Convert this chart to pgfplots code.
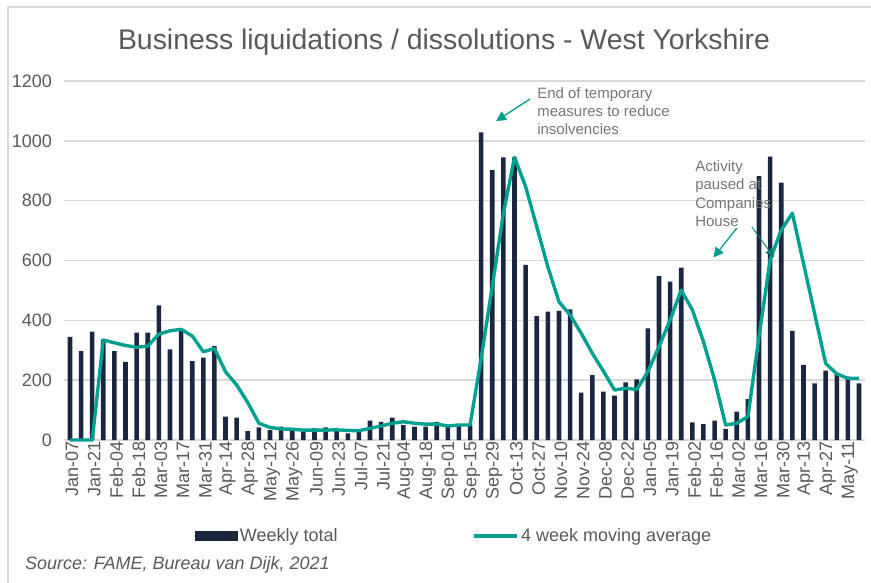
\documentclass[border=0pt]{standalone}
\usepackage{fontspec}
\setmainfont{Liberation Sans}
\usepackage{pgfplots}
\usepackage{pgfplotstable}
\pgfplotsset{compat=1.18}
\usetikzlibrary{arrows.meta}
\definecolor{navy}{RGB}{27,38,64}
\definecolor{tealc}{RGB}{0,160,145}
\definecolor{gridc}{RGB}{217,217,217}
\definecolor{txt}{RGB}{89,89,89}
\definecolor{anno}{RGB}{118,118,118}
\pgfplotstableread{
x bar avg
0 345 0
1 297 0
2 362 0
3 336 334
4 297 325
5 261 316
6 359 310
7 359 314
8 450 354
9 303 365
10 370 370
11 264 348
12 275 295
13 314 306
14 78 228
15 75 184
16 30 125
17 42 56
18 33 42
19 45 37
20 33 36
21 28 33
22 39 33
23 42 33
24 39 34
25 22 32
26 28 31
27 65 39
28 61 47
29 75 56
30 50 61
31 45 56
32 45 53
33 61 53
34 45 47
35 53 50
36 50 50
37 1028 273
38 902 513
39 945 758
40 945 945
41 585 847
42 414 713
43 429 579
44 432 462
45 437 418
46 158 357
47 217 290
48 162 230
49 148 167
50 193 173
51 203 169
52 373 228
53 548 312
54 529 401
55 576 501
56 59 435
57 53 329
58 65 201
59 37 50
60 95 56
61 137 78
62 882 345
63 947 602
64 860 702
65 365 758
66 251 591
67 189 423
68 232 256
69 221 221
70 212 206
71 189 206
}\datatab
\begin{document}
\begin{tikzpicture}
\useasboundingbox (0pt,0pt) rectangle (871pt,-583pt);
\draw[gridc, line width=1.5pt] (8pt,-7pt) rectangle (900pt,-620pt);
\node[txt, font=\fontsize{28.4}{32}\selectfont, anchor=center, inner sep=0pt] at (444pt,-42pt) {Business liquidations / dissolutions - West Yorkshire};
\node[txt, font=\fontsize{18}{21}\selectfont\itshape, anchor=west, inner sep=0pt] at (25pt,-565pt) {Source: FAME, Bureau van Dijk, 2021};
\begin{axis}[
  at={(64.4pt,-440pt)}, anchor=south west,
  scale only axis, width=800.2pt, height=359pt,
  xmin=-0.5, xmax=71.5, ymin=0, ymax=1200,
  ytick={0,200,...,1200},
  xtick={0,2,...,70},
  xticklabels={Jan-07,Jan-21,Feb-04,Feb-18,Mar-03,Mar-17,Mar-31,Apr-14,Apr-28,May-12,May-26,Jun-09,Jun-23,Jul-07,Jul-21,Aug-04,Aug-18,Sep-01,Sep-15,Sep-29,Oct-13,Oct-27,Nov-10,Nov-24,Dec-08,Dec-22,Jan-05,Jan-19,Feb-02,Feb-16,Mar-02,Mar-16,Mar-30,Apr-13,Apr-27,May-11},
  tick label style={font=\fontsize{18}{21}\selectfont, text=txt},
  xticklabel style={rotate=90, anchor=east, inner sep=1pt, yshift=-2pt},
  yticklabel style={xshift=-9pt},
  /pgf/number format/assume math mode=true,
  /pgf/number format/1000 sep={},
  ymajorgrids, grid style={gridc, line width=1.4pt},
  axis line style={draw=none},
  major tick length=0pt,
  clip=false,
  legend columns=2,
  legend style={at={(0.487,-0.267)}, anchor=center, draw=none, fill=none,
    font=\fontsize{18}{21}\selectfont, text=txt, inner sep=0pt,
    nodes={inner sep=1.5pt, anchor=west},
    /tikz/every even column/.append style={column sep=133pt}},
]
\addplot[ybar, bar width=4.6pt, fill=navy, draw=none,
  legend image code/.code={\fill[navy] (0pt,-5pt) rectangle (43pt,5pt);}]
  table[x=x, y=bar] {\datatab};
\addlegendentry{Weekly total}
\addplot[tealc, line width=3.4pt, line join=round, mark=none,
  legend image code/.code={\draw[tealc, line width=4.5pt] (0pt,0pt) -- (43pt,0pt);}]
  table[x=x, y=avg] {\datatab};
\addlegendentry{4 week moving average}
\draw[-{Triangle[length=10pt,width=10pt]}, tealc, line width=1.3pt] (axis cs:41.4,1140) -- (axis cs:38.34,1066);
\draw[-{Triangle[length=10pt,width=10pt]}, tealc, line width=1.3pt] (axis cs:60.0,708) -- (axis cs:57.9,610);
\draw[-{Triangle[length=9pt,width=8pt]}, tealc!80!black, line width=0.9pt] (axis cs:61.35,713) -- (axis cs:63.36,610);
\node[anno, font=\fontsize{15}{18}\selectfont, align=left, anchor=north west, inner sep=0pt] at (axis cs:42.03,1177) {End of temporary\\measures to reduce\\insolvencies};
\node[anno, font=\fontsize{15}{18.5}\selectfont, align=left, anchor=north west, inner sep=0pt] at (axis cs:56.25,936) {Activity\\paused at\\Companies\\House};
\end{axis}
\end{tikzpicture}
\end{document}
